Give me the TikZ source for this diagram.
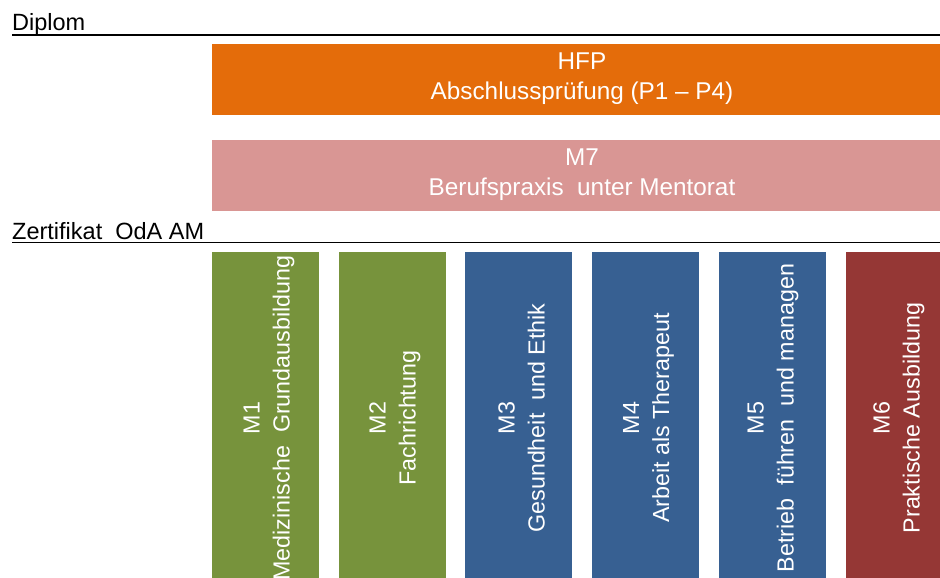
\documentclass[tikz,border=0pt]{standalone}
\usepackage{fontspec}
\setmainfont{Liberation Sans}
\definecolor{hfporange}{HTML}{E46C0A}
\definecolor{mpink}{HTML}{D99694}
\definecolor{mgreen}{HTML}{77933C}
\definecolor{mblue}{HTML}{376092}
\definecolor{mred}{HTML}{953735}
\tikzset{
  hbox/.style={draw=white, line width=0.6pt, text=white, align=center, minimum width=742pt, minimum height=72pt, inner sep=0pt, font=\fontsize{24.3}{30}\selectfont},
  vbox/.style={draw=white, line width=0.6pt, minimum width=108pt, minimum height=334pt, inner sep=0pt},
  vtext/.style={text=white, rotate=90, align=center, inner sep=0pt, font=\fontsize{23.3}{30}\selectfont},
  lvl/.style={anchor=base west, inner sep=0pt, font=\fontsize{23.5}{28}\selectfont},
  rule/.style={line width=1.5pt, black}
}
\begin{document}
\begin{tikzpicture}[x=1pt,y=-1pt]
\clip (0,0) rectangle (940,578);
\fill[white] (0,0) rectangle (940,578);
% level labels and rules
\node[lvl] (dip) at (12,30.5) {Diplom};
\coordinate (dipend) at (940,35);
\draw[rule] (dip.south west |- dipend) -- (dipend);
\node[lvl] (zert) at (12,239.5) {Zertifikat\ \ OdA AM};
\coordinate (zertend) at (940,242.5);
\draw[rule] (zert.south west |- zertend) -- (zertend);
% horizontal boxes
\node[hbox, fill=hfporange] (hfp) at (582,79) {HFP\\Abschlusspr\"ufung (P1 -- P4)};
\node[hbox, fill=mpink] (m7) at (582,175) {M7\\Berufspraxis\ \ unter Mentorat};
% vertical boxes
\node[vbox, fill=mgreen] (m1) at (265,418) {};
\node[vbox, fill=mgreen] (m2) at (392,418) {};
\node[vbox, fill=mblue] (m3) at (518.5,418) {};
\node[vbox, fill=mblue] (m4) at (645.5,418) {};
\node[vbox, fill=mblue] (m5) at (772,418) {};
\node[vbox, fill=mred] (m6) at (899,418) {};
\node[vtext] (t1) at ([xshift=4pt]m1.center) {M1\\Medizinische\ \ Grundausbildung};
\node[vtext] (t2) at ([xshift=3pt]m2.center) {M2\\Fachrichtung};
\node[vtext] (t3) at ([xshift=3pt]m3.center) {M3\\Gesundheit\ \ und Ethik};
\node[vtext] (t4) at ([xshift=3pt]m4.center) {M4\\Arbeit als Therapeut};
\node[vtext] (t5) at ([xshift=1pt]m5.center) {M5\\Betrieb\ \ f\"uhren\ \ und managen};
\node[vtext] (t6) at (m6.center) {M6\\Praktische Ausbildung};
\end{tikzpicture}
\end{document}
